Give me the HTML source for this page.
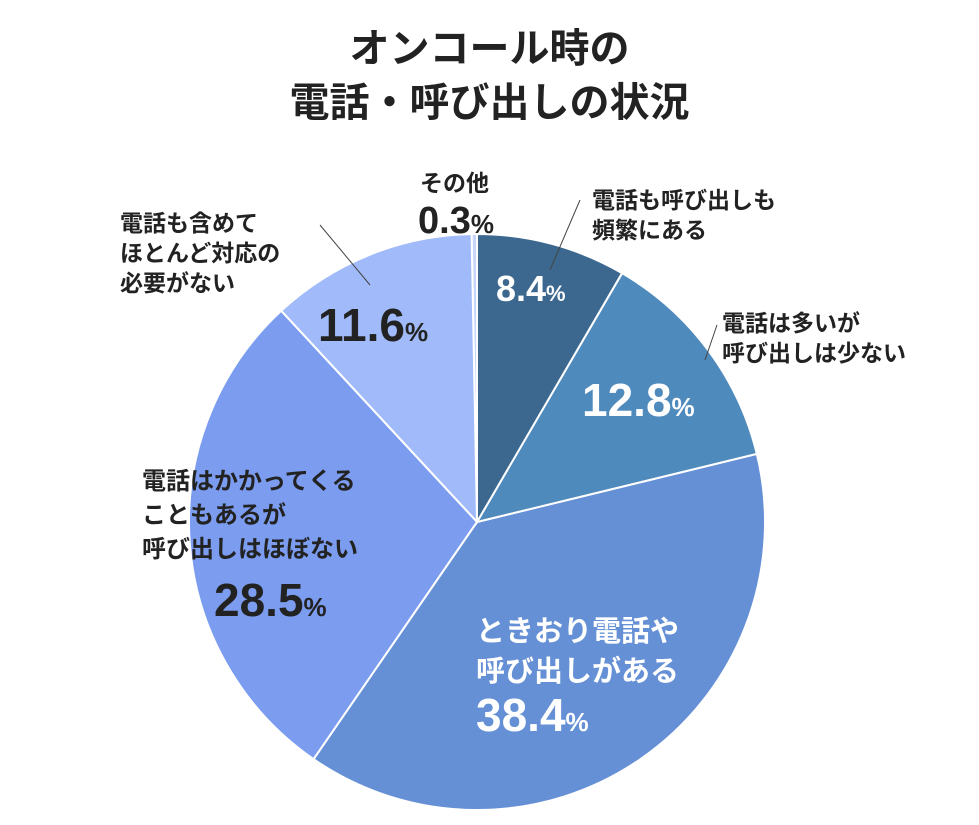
<!DOCTYPE html>
<html><head><meta charset="utf-8">
<style>
html,body{margin:0;padding:0;background:#fff;}
#wrap{position:relative;width:979px;height:825px;overflow:hidden;font-family:"Liberation Sans","Noto Sans CJK JP",sans-serif;font-weight:bold;color:#222;}
.t{position:absolute;white-space:nowrap;line-height:1.25;}
.title{font-size:40px;text-align:center;width:979px;left:0;line-height:54px;top:22px;}
.jp{font-size:23px;line-height:30px;}
.pct{font-size:46px;line-height:50px;}
.pct small{font-size:26px;}
.w{color:#fff;}
svg{position:absolute;left:0;top:0;}
</style></head><body>
<div id="wrap">
<div class="t title">オンコール時の<br>電話・呼び出しの状況</div>
<svg id="pie" width="979" height="825">
<line x1="580" y1="200" x2="550" y2="270" stroke="#444" stroke-width="1"/>
<line x1="717" y1="325" x2="705" y2="360" stroke="#444" stroke-width="1"/>
<line x1="320" y1="225" x2="370" y2="285" stroke="#444" stroke-width="1"/>
</svg>
<div class="t jp" style="left:420px;top:168px">その他</div>
<div class="t pct" style="left:418px;top:196px;font-size:38px">0.3<small>%</small></div>
<div class="t jp" style="left:592px;top:185px">電話も呼び出しも<br>頻繁にある</div>
<div class="t pct w" style="left:496px;top:264px;font-size:36px">8.4<small style="font-size:22px">%</small></div>
<div class="t jp" style="left:722px;top:308px">電話は多いが<br>呼び出しは少ない</div>
<div class="t pct w" style="left:582px;top:375px">12.8<small>%</small></div>
<div class="t jp w" style="left:476px;top:612px;font-size:29px;line-height:40px">ときおり電話や<br>呼び出しがある</div>
<div class="t pct w" style="left:476px;top:690px">38.4<small>%</small></div>
<div class="t jp" style="left:142px;top:465px;font-size:24px;line-height:34px">電話はかかってくる<br>こともあるが<br>呼び出しはほぼない</div>
<div class="t pct" style="left:214px;top:575px">28.5<small>%</small></div>
<div class="t jp" style="left:120px;top:208px">電話も含めて<br>ほとんど対応の<br>必要がない</div>
<div class="t pct" style="left:318px;top:300px">11.6<small>%</small></div>
</div>
<script>
const categories=["電話も呼び出しも頻繁にある","電話は多いが呼び出しは少ない","ときおり電話や呼び出しがある","電話はかかってくることもあるが呼び出しはほぼない","電話も含めてほとんど対応の必要がない","その他"];
const values=[8.4,12.8,38.4,28.5,11.6,0.3];
const colors=["#3c6890","#4f8abd","#6590d5","#7b9cef","#a1baf9","#c9d6fb"];
const cx=477,cy=522,r=288;
const svg=document.getElementById('pie');
const total=values.reduce((a,b)=>a+b,0);
function pt(a){return [cx+r*Math.sin(a),cy-r*Math.cos(a)];}
let acc=0;
const ns="http://www.w3.org/2000/svg";
values.forEach((v,i)=>{
  const a0=acc/total*2*Math.PI;acc+=v;const a1=acc/total*2*Math.PI;
  const p0=pt(a0),p1=pt(a1);const large=(a1-a0)>Math.PI?1:0;
  const p=document.createElementNS(ns,'path');
  p.setAttribute('d',`M${cx},${cy}L${p0[0]},${p0[1]}A${r},${r} 0 ${large} 1 ${p1[0]},${p1[1]}Z`);
  p.setAttribute('fill',colors[i]);p.setAttribute('stroke','#fff');p.setAttribute('stroke-width','2');
  
  
  svg.insertBefore(p,svg.firstChild);
});
</script>
</body></html>
